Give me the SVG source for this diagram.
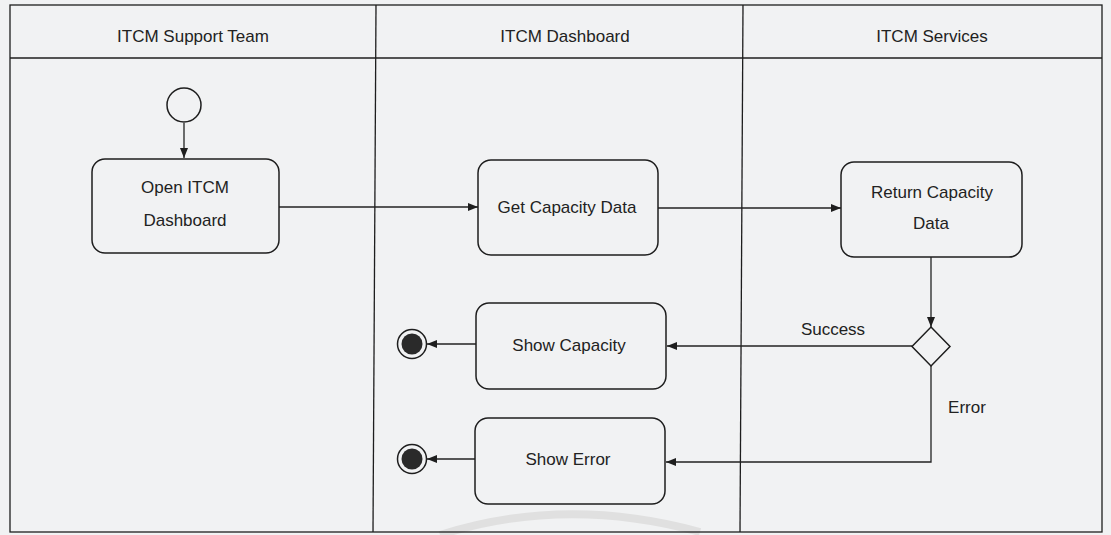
<svg xmlns="http://www.w3.org/2000/svg" width="1111" height="535" viewBox="0 0 1111 535">
  <style>
    .lane { fill: none; stroke: #1e1e1e; stroke-width: 1.3; }
    .box { fill: none; stroke: #1e1e1e; stroke-width: 1.5; }
    .edge { fill: none; stroke: #222; stroke-width: 1.3; }
    text { font-family: "Liberation Sans", Arial, sans-serif; font-size: 17px; fill: #222; text-anchor: middle; }
  </style>
  <defs>
    <marker id="arrow" viewBox="0 0 10 10" refX="10" refY="5" markerWidth="10" markerHeight="10" markerUnits="userSpaceOnUse" orient="auto">
      <path d="M0,1 L10,5 L0,9 z" fill="#1e1e1e"/>
    </marker>
  </defs>

  <!-- paper -->
  <rect x="0" y="0" width="1111" height="535" fill="#f1f2f3"/>

  <!-- faint arc printed near the bottom edge -->
  <path d="M 440 535 Q 565 495 700 532" fill="none" stroke="#e0e0e0" stroke-width="8"/>

  <!-- swimlane frame -->
  <g id="lanes">
    <rect class="lane" x="10" y="5" width="1092" height="527"/>
    <line class="lane" x1="10" y1="58" x2="1102" y2="58"/>
    <line class="lane" x1="376" y1="5" x2="373" y2="532"/>
    <line class="lane" x1="743" y1="5" x2="740" y2="532"/>
    <text x="193" y="42">ITCM Support Team</text>
    <text x="565" y="42">ITCM Dashboard</text>
    <text x="932" y="42">ITCM Services</text>
  </g>

  <!-- connectors -->
  <g id="connectors">
    <line class="edge" x1="184" y1="123" x2="184" y2="158" marker-end="url(#arrow)"/>
    <line class="edge" x1="279" y1="207" x2="478" y2="207" marker-end="url(#arrow)"/>
    <line class="edge" x1="658" y1="208" x2="841" y2="208" marker-end="url(#arrow)"/>
    <line class="edge" x1="931" y1="257" x2="931" y2="327" marker-end="url(#arrow)"/>
    <line class="edge" x1="912" y1="346" x2="667" y2="346" marker-end="url(#arrow)"/>
    <polyline class="edge" points="931,366 931,462 666,462" marker-end="url(#arrow)"/>
    <line class="edge" x1="476" y1="344" x2="427" y2="344" marker-end="url(#arrow)"/>
    <line class="edge" x1="475" y1="459" x2="427" y2="459" marker-end="url(#arrow)"/>
    <text x="833" y="335">Success</text>
    <text x="967" y="413">Error</text>
  </g>

  <g id="start">
    <circle cx="184" cy="105" r="17" fill="none" stroke="#1e1e1e" stroke-width="1.5"/>
  </g>

  <g id="open-dashboard">
    <rect class="box" x="92" y="159" width="187" height="94" rx="13"/>
    <text x="185" y="193">Open ITCM</text>
    <text x="185" y="226">Dashboard</text>
  </g>

  <g id="get-capacity-data">
    <rect class="box" x="478" y="160" width="180" height="95" rx="13"/>
    <text x="567" y="213">Get Capacity Data</text>
  </g>

  <g id="return-capacity-data">
    <rect class="box" x="841" y="162" width="181" height="95" rx="13"/>
    <text x="932" y="198">Return Capacity</text>
    <text x="931" y="229">Data</text>
  </g>

  <g id="decision">
    <polygon points="931,327 950,346.5 931,366 912,346.5" fill="none" stroke="#1e1e1e" stroke-width="1.5"/>
  </g>

  <g id="show-capacity">
    <rect class="box" x="476" y="303" width="190" height="86" rx="13"/>
    <text x="569" y="351">Show Capacity</text>
  </g>

  <g id="show-error">
    <rect class="box" x="475" y="418" width="190" height="86" rx="13"/>
    <text x="568" y="465">Show Error</text>
  </g>

  <g id="end-capacity">
    <circle cx="412" cy="344" r="14.5" fill="none" stroke="#1e1e1e" stroke-width="1.5"/>
    <circle cx="412" cy="344" r="10.5" fill="#2a2a2a"/>
  </g>

  <g id="end-error">
    <circle cx="412" cy="459" r="14.5" fill="none" stroke="#1e1e1e" stroke-width="1.5"/>
    <circle cx="412" cy="459" r="10.5" fill="#2a2a2a"/>
  </g>
</svg>
